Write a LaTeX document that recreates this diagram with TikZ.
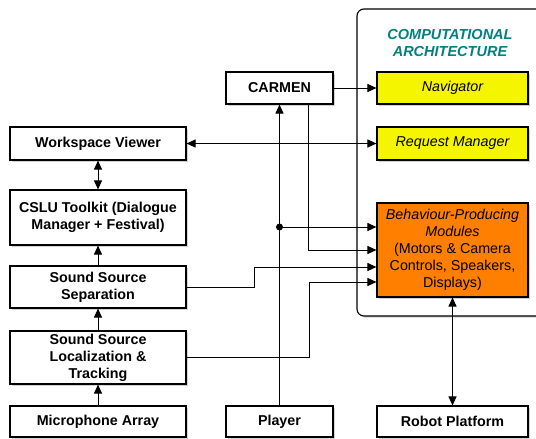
\documentclass[tikz,border=0pt]{standalone}
\usepackage{fontspec}
\setmainfont{Liberation Sans}
\usetikzlibrary{arrows.meta,shadows}
\definecolor{archteal}{RGB}{0,128,128}
\definecolor{modyellow}{RGB}{245,245,0}
\definecolor{modorange}{RGB}{255,128,0}
\begin{document}
\begin{tikzpicture}[
        x=1pt, y=-1pt,
        font=\fontsize{14.3}{17}\selectfont,
        box/.style={draw, line width=1.1pt, fill=white, align=center, inner sep=1pt,
            drop shadow={shadow xshift=1.5pt, shadow yshift=-1.5pt, opacity=0.35}},
        side/.style={box, minimum width=176pt, font=\fontsize{14.3}{17}\selectfont\bfseries},
        mid/.style={box, minimum width=107pt, font=\fontsize{14.3}{17}\selectfont\bfseries},
        module/.style={box, minimum width=151pt, font=\fontsize{14.3}{17}\selectfont\itshape},
        arrow/.style={-{Triangle[length=9pt,width=8pt]}, line width=1pt},
        biarrow/.style={{Triangle[length=9pt,width=8pt]}-{Triangle[length=9pt,width=8pt]}, line width=1pt}
    ]
        \useasboundingbox (0,0) rectangle (536,439);
        \clip (0,0) rectangle (536,439);

        % Computational architecture frame
        \draw[line width=1.1pt, rounded corners=7pt, fill=white,
            drop shadow={shadow xshift=1.5pt, shadow yshift=-1.5pt, opacity=0.35}]
            (357,9) rectangle (560,316);
        \node[archteal, align=center, font=\fontsize{14.5}{16.5}\selectfont\bfseries\itshape]
            (archtitle) at (450,43) {COMPUTATIONAL\\ARCHITECTURE};

        % Left column
        \node[side, minimum height=33pt] (ws) at (98,143.5) {Workspace Viewer};
        \node[side, minimum height=55pt] (cslu) at (98,217.5) {CSLU Toolkit (Dialogue\\Manager + Festival)};
        \node[side, minimum height=42pt] (sss) at (98,287) {Sound Source\\Separation};
        \node[side, minimum height=53pt] (ssl) at (98,357.5) {Sound Source\\Localization \&\\Tracking};
        \node[side, minimum height=31pt] (mic) at (98,421.5) {Microphone Array};

        % Middle column
        \node[mid, minimum height=32pt] (carmen) at (279.5,88) {CARMEN};
        \node[mid, minimum height=31pt] (player) at (279.5,421.5) {Player};

        % Modules
        \node[module, fill=modyellow, minimum height=32pt] (nav) at (452.5,88) {Navigator};
        \node[module, fill=modyellow, minimum height=33pt] (req) at (452.5,143.5) {Request Manager};
        \node[module, fill=modorange, minimum height=94pt] (beh) at (452.5,250)
            {Behaviour-Producing\\Modules\\\upshape (Motors \& Camera\\\upshape Controls, Speakers,\\\upshape Displays)};
        \node[mid, minimum width=151pt, minimum height=31pt] (robot) at (452.5,421.5) {Robot Platform};

        % Connections
        \draw[arrow] (carmen) -- (nav);
        \draw[biarrow] (ws) -- (req);
        \draw[biarrow] (ws) -- (cslu);
        \draw[arrow] (sss) -- (cslu);
        \draw[arrow] (ssl) -- (sss);
        \draw[arrow] (mic) -- (ssl);
        \draw[arrow] (player) -- (carmen);

        \coordinate (tap) at (279.5,227);
        \fill (tap) circle (3.5pt);
        \draw[arrow] (tap) -- (tap -| beh.west);
        \draw[arrow] ([xshift=28.5pt]carmen.south) |- (beh.west);
        \draw[arrow] (sss.east) -- ++(68,0) |- ([yshift=-17pt]beh.west);
        \draw[arrow] (ssl.east) -- ++(123,0) |- ([yshift=-32pt]beh.west);
        \draw[biarrow] (beh) -- (robot);
\end{tikzpicture}
\end{document}
